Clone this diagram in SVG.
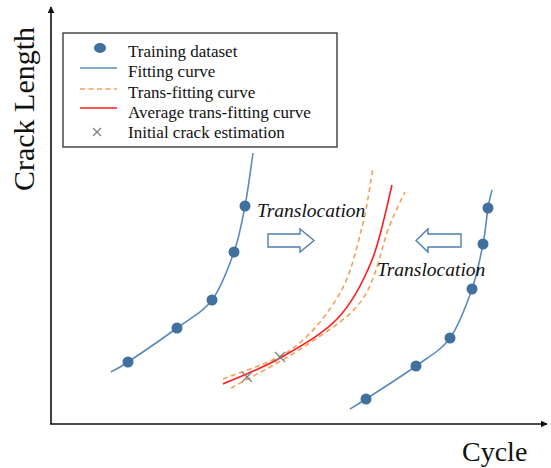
<svg xmlns="http://www.w3.org/2000/svg" width="551" height="468" viewBox="0 0 551 468">
  <style>
    .serif { font-family: "Liberation Serif", "Times New Roman", serif; fill: #111; }
    .axis { stroke: #111; stroke-width: 1.6; fill: none; }
    .fit { stroke: #5b8bbb; stroke-width: 1.6; fill: none; }
    .trans { stroke: #f4a05a; stroke-width: 1.6; fill: none; stroke-dasharray: 5 3.5; }
    .avg { stroke: #ff1a1a; stroke-width: 1.6; fill: none; }
    .dot { fill: #41709f; }
    .cross { stroke: #7f7f7f; stroke-width: 1.3; fill: none; }
    .block { fill: #ffffff; stroke: #4f7fb0; stroke-width: 1.4; }
  </style>
  <defs>
    <marker id="axisHead" viewBox="0 0 10 10" refX="9" refY="5" markerWidth="7" markerHeight="7" orient="auto" markerUnits="userSpaceOnUse">
      <path d="M0,0 L10,5 L0,10 z" fill="#111"/>
    </marker>
  </defs>
  <rect width="551" height="468" fill="#ffffff"/>

  <!-- axes -->
  <g id="axes">
    <path class="axis" d="M51,424 L51,7" marker-end="url(#axisHead)"/>
    <path class="axis" d="M50,424 L547,424" marker-end="url(#axisHead)"/>
    <text class="serif" font-size="30" transform="translate(34,109) rotate(-90)" text-anchor="middle">Crack Length</text>
    <text class="serif" font-size="28" x="462" y="461">Cycle</text>
  </g>

  <g id="connectors">
    <!-- fitting curve of the left training set -->
    <path class="fit" d="M111,372 C113.8,370.3 117,369.3 128,362 C139,354.7 163,338.3 177,328 C191,317.7 202.5,312.7 212,300 C221.5,287.3 228.5,267.7 234,252 C239.5,236.3 241.8,222.5 245,206 C248.2,189.5 251.7,161.8 253,153"/>
    <!-- fitting curve of the right training set -->
    <path class="fit" d="M350,409 C352.7,407.3 355,406.2 366,399 C377,391.8 402,376.2 416,366 C430,355.8 440.7,350.8 450,338 C459.3,325.2 466.5,304.7 472,289 C477.5,273.3 480.3,257.5 483,244 C485.7,230.5 486.5,217 488,208 C489.5,199 491.3,193 492,190"/>
    <!-- translated fitting curves -->
    <path class="trans" d="M223,379 C234.5,374 272.5,363.3 292,349 C311.5,334.7 328.3,313.3 340,293 C351.7,272.7 356.5,247.8 362,227 C367.5,206.2 371.2,177.8 373,168"/>
    <path class="trans" d="M231,388 C242.8,381.3 280.2,362.7 302,348 C323.8,333.3 347.5,320.2 362,300 C376.5,279.8 381.8,245 389,227 C396.2,209 402.3,197.8 405,192"/>
    <!-- averaged curve -->
    <path class="avg" d="M223,384 C232.5,379.7 260.8,369 280,358 C299.2,347 322.7,334.3 338,318 C353.3,301.7 363,282.2 372,260 C381,237.8 388.7,197.5 392,185"/>
  </g>

  <g id="left-dataset">
    <circle class="dot" cx="128" cy="362" r="5.5"/>
    <circle class="dot" cx="177" cy="328" r="5.5"/>
    <circle class="dot" cx="212" cy="300" r="5.5"/>
    <circle class="dot" cx="234" cy="252" r="5.5"/>
    <circle class="dot" cx="245" cy="206" r="5.5"/>
  </g>

  <g id="right-dataset">
    <circle class="dot" cx="366" cy="399" r="5.5"/>
    <circle class="dot" cx="416" cy="366" r="5.5"/>
    <circle class="dot" cx="450" cy="338" r="5.5"/>
    <circle class="dot" cx="472" cy="289" r="5.5"/>
    <circle class="dot" cx="483" cy="244" r="5.5"/>
    <circle class="dot" cx="488" cy="208" r="5.5"/>
  </g>

  <g id="initial-estimates">
    <path class="cross" d="M242,372 L252,382 M252,372 L242,382"/>
    <path class="cross" d="M275,352 L285,362 M285,352 L275,362"/>
  </g>

  <g id="shift-right">
    <path class="block" d="M268,234 L300,234 L300,229 L314,240.5 L300,252 L300,247 L268,247 z"/>
    <text class="serif" font-size="19.5" font-style="italic" x="257" y="217">Translocation</text>
  </g>

  <g id="shift-left">
    <path class="block" d="M461,234 L428,234 L428,229 L416,240.5 L428,252 L428,247 L461,247 z"/>
    <text class="serif" font-size="19.5" font-style="italic" x="377" y="276">Translocation</text>
  </g>

  <g id="legend">
    <rect x="63" y="33" width="274" height="114" fill="#ffffff" stroke="#3c3c3c" stroke-width="1.4"/>
    <ellipse class="dot" cx="100" cy="48" rx="6" ry="5"/>
    <line class="fit" x1="80" y1="68" x2="117" y2="68"/>
    <line class="trans" x1="80" y1="89" x2="117" y2="89"/>
    <line class="avg" x1="80" y1="108" x2="117" y2="108"/>
    <path class="cross" d="M93,128 L101,136 M101,128 L93,136"/>
    <g class="serif" font-size="17">
      <text x="128" y="57">Training dataset</text>
      <text x="128" y="77">Fitting curve</text>
      <text x="128" y="98">Trans-fitting curve</text>
      <text x="128" y="118">Average trans-fitting curve</text>
      <text x="128" y="138">Initial crack estimation</text>
    </g>
  </g>
</svg>
